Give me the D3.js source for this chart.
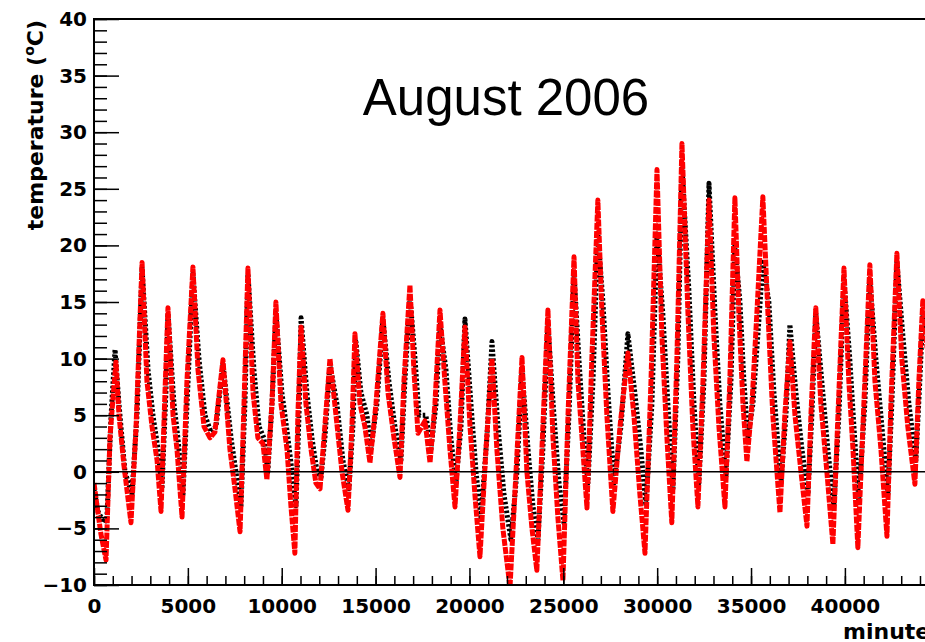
<!DOCTYPE html>
<html lang="en">
<head>
<meta charset="UTF-8">
<title>August 2006</title>
<style>
  body {
    margin: 0;
    background: #ffffff;
  }
  svg text {
    font-family: "DejaVu Sans", sans-serif;
    font-weight: bold;
    fill: #000000;
  }
  text.title {
    font-family: "Liberation Sans", Arial, sans-serif;
    font-weight: normal;
    font-size: 51px;
  }
  .tick text {
    font-size: 20px;
  }
  .tick line {
    stroke: #000000;
    stroke-width: 1.5px;
  }
  .axis-title {
    font-size: 22px;
  }
  path.series {
    fill: none;
    stroke-width: 5px;
    stroke-linejoin: round;
  }
</style>
</head>
<body>
<div id="chart"></div>
<script src="https://d3js.org/d3.v7.min.js"></script>
<script>
// minutes since 1 August 00:00, temperature in degC (turning points)
var redTime = [0, 160, 370, 640, 850, 1010, 1170, 1330, 1600, 1970, 2240, 2560, 2820, 3090, 3360, 3570,
  3780, 3940, 4210, 4420, 4690, 4950, 5270, 5540, 5860, 6180, 6440, 6870, 7240, 7510, 7780, 7990,
  8200, 8470, 8730, 9000, 9210, 9480, 9690, 9960, 10280, 10490, 10700, 10860, 11030, 11290, 11560, 11820,
  12040, 12250, 12570, 12890, 13210, 13530, 13740, 13900, 14170, 14430, 14700, 15020, 15390, 15660, 15980, 16300,
  16510, 16830, 17040, 17260, 17630, 17900, 18160, 18430, 18690, 18960, 19230, 19490, 19760, 20030, 20290, 20560,
  20880, 21200, 21460, 21780, 22160, 22480, 22800, 23060, 23330, 23590, 23860, 24180, 24450, 24710, 24980, 25250,
  25570, 25780, 26040, 26260, 26520, 26840, 27060, 27320, 27640, 28020, 28440, 28760, 29080, 29350, 29670, 29990,
  30250, 30520, 30780, 31050, 31320, 31640, 31900, 32170, 32440, 32760, 33020, 33290, 33610, 33870, 34140, 34350,
  34570, 34780, 35050, 35310, 35630, 35900, 36160, 36540, 36800, 37070, 37340, 37660, 37980, 38190, 38450, 38720,
  39040, 39360, 39630, 39950, 40210, 40430, 40690, 41010, 41330, 41600, 41920, 42240, 42450, 42770, 43030, 43350,
  43730, 43940, 44150, 44370, 44580];
var redTemp = [-1.0, -3.0, -5.5, -7.8, 3.0, 6.5, 9.7, 5.0, 0.5, -4.5, 4.0, 18.5, 8.0, 4.0, 1.0, -3.5,
  7.0, 14.5, 5.0, 2.0, -4.0, 8.0, 18.1, 9.0, 4.0, 3.0, 3.5, 9.9, 2.0, -1.5, -5.3, 6.0,
  18.0, 7.0, 3.0, 2.5, -0.7, 6.0, 15.0, 6.0, 2.0, -3.0, -7.2, 5.0, 12.8, 6.0, 2.0, -1.0,
  -1.5, 3.0, 10.0, 5.0, 0.0, -3.4, 4.0, 12.2, 6.0, 4.0, 0.8, 6.0, 14.0, 7.0, 3.0, -0.5,
  8.0, 16.5, 9.0, 3.4, 4.5, 0.8, 6.0, 14.3, 8.0, 2.0, -3.1, 4.0, 12.8, 4.0, -2.0, -7.5,
  2.0, 10.0, 2.0, -5.0, -10.2, 0.0, 10.1, 0.0, -5.0, -8.7, 2.0, 14.3, 3.0, -4.0, -9.6, 5.0,
  19.0, 8.0, 2.0, -3.2, 10.0, 24.0, 14.0, 5.0, -3.5, 4.0, 10.5, 5.0, -2.0, -7.2, 8.0, 26.7,
  12.0, 3.0, -4.5, 10.0, 29.0, 14.0, 4.0, -3.1, 8.0, 24.0, 12.0, 4.0, -3.1, 8.0, 24.2, 14.0,
  6.0, 0.9, 6.0, 14.0, 24.3, 14.0, 5.0, -3.6, 5.0, 11.5, 5.0, 0.0, -4.8, 5.0, 14.5, 6.0,
  0.0, -6.4, 5.0, 18.0, 8.0, 2.0, -6.7, 6.0, 18.3, 8.0, 2.0, -5.7, 6.0, 19.3, 10.0, 4.0,
  -1.1, 8.0, 15.1, 11.0, 10.0];

var blackTime = [0, 210, 530, 690, 910, 1120, 1330, 1650, 2020, 2290, 2560, 2880, 3140, 3410, 3620, 3830,
  3940, 4260, 4470, 4740, 5010, 5270, 5590, 5910, 6230, 6500, 6870, 7300, 7560, 7830, 8040, 8200,
  8520, 8790, 9050, 9260, 9480, 9690, 10010, 10330, 10550, 10760, 10920, 11030, 11340, 11610, 11880, 12090,
  12300, 12570, 12940, 13260, 13580, 13790, 13950, 14220, 14540, 14750, 15070, 15390, 15710, 16030, 16350, 16560,
  16830, 17100, 17310, 17680, 17950, 18220, 18430, 18750, 19010, 19280, 19550, 19760, 20080, 20350, 20610, 20930,
  21200, 21520, 21840, 22210, 22530, 22800, 23120, 23380, 23650, 23910, 24180, 24500, 24770, 25030, 25300, 25570,
  25830, 26100, 26310, 26580, 26840, 27110, 27380, 27700, 28070, 28440, 28810, 29130, 29400, 29720, 29990, 30300,
  30570, 30840, 31100, 31320, 31690, 31960, 32220, 32490, 32760, 33080, 33340, 33660, 33930, 34140, 34410, 34620,
  34830, 35100, 35360, 35630, 35950, 36220, 36590, 36860, 37070, 37390, 37710, 38030, 38240, 38450, 38770, 39090,
  39410, 39680, 39950, 40260, 40480, 40740, 41060, 41330, 41650, 41970, 42290, 42500, 42770, 43090, 43410, 43780,
  43990, 44150, 44420, 44580];
var blackTemp = [-1.5, -3.5, -4.5, -4.0, 5.0, 10.8, 6.0, 0.0, -2.0, 5.0, 18.0, 9.0, 5.0, 2.0, -1.5, 7.0,
  14.0, 6.0, 3.0, -2.0, 8.0, 17.5, 10.0, 5.0, 3.5, 4.0, 9.5, 3.0, 0.0, -3.0, 6.0, 17.5,
  9.0, 4.0, 3.0, 0.0, 6.0, 14.0, 7.0, 3.0, 0.0, -3.0, 5.0, 13.6, 7.0, 3.0, 0.0, -0.5,
  3.0, 9.5, 6.0, 1.0, -1.5, 4.0, 11.5, 7.0, 5.0, 2.0, 6.0, 13.5, 8.0, 4.0, 1.0, 8.0,
  15.5, 10.0, 5.0, 5.0, 2.0, 6.0, 13.0, 9.0, 3.0, -1.0, 4.0, 13.5, 6.0, 0.0, -4.0, 3.0,
  11.5, 4.0, -2.0, -6.0, 0.0, 9.0, 2.0, -3.0, -6.0, 2.0, 13.0, 5.0, -1.0, -4.5, 5.0, 17.5,
  10.0, 3.0, -1.0, 8.0, 21.0, 15.0, 7.0, -1.0, 4.0, 12.2, 7.0, 2.0, -3.0, 6.0, 21.0, 14.0,
  6.0, -1.5, 10.0, 27.0, 16.0, 6.0, -1.0, 8.0, 25.5, 14.0, 6.0, -0.5, 8.0, 20.0, 15.0, 8.0,
  3.0, 6.0, 12.0, 18.5, 15.0, 7.0, -1.0, 5.0, 13.0, 7.0, 2.0, -2.0, 5.0, 14.0, 8.0, 2.0,
  -3.0, 5.0, 17.0, 10.0, 4.0, -2.5, 6.0, 17.0, 10.0, 4.0, -2.0, 6.0, 18.5, 12.0, 6.0, 1.0,
  8.0, 14.0, 12.0, 10.0];

var xTickValues = [0, 5000, 10000, 15000, 20000, 25000, 30000, 35000, 40000];
var yTickValues = [-10, -5, 0, 5, 10, 15, 20, 25, 30, 35, 40];
var xDomain = [0, 44640];
var yDomain = [-10, 40];

var width = 925;
var height = 642;
var plot = { left: 94, right: 932, top: 19, bottom: 585 };

var x = d3.scaleLinear().domain(xDomain).range([plot.left, plot.right]);
var y = d3.scaleLinear().domain(yDomain).range([plot.bottom, plot.top]);

var svg = d3.select('#chart')
  .append('svg')
  .attr('width', width)
  .attr('height', height);

svg.append('defs').append('clipPath')
  .attr('id', 'plotclip')
  .append('rect')
  .attr('x', plot.left)
  .attr('y', plot.top)
  .attr('width', plot.right - plot.left)
  .attr('height', plot.bottom - plot.top);

function rows(times, temps) {
  return times.map(function(t, i) { return { t: t, v: temps[i] }; });
}

var line = d3.line()
  .x(function(d) { return x(d.t); })
  .y(function(d) { return y(d.v); });

var data = svg.append('g').attr('clip-path', 'url(#plotclip)');

data.append('path')
  .attr('class', 'series')
  .attr('d', line(rows(blackTime, blackTemp)))
  .style('stroke', '#000000')
  .style('stroke-dasharray', '2.5,2');

data.append('path')
  .attr('class', 'series')
  .attr('d', line(rows(redTime, redTemp)))
  .style('stroke', '#ff0000')
  .style('stroke-dasharray', '7,1.2');

// zero line
svg.append('line')
  .attr('x1', x(xDomain[0]))
  .attr('x2', x(xDomain[1]))
  .attr('y1', y(0))
  .attr('y2', y(0))
  .style('stroke', '#000000')
  .style('stroke-width', 1.5);

// axes (ticks pointing into the frame, like ROOT)
svg.append('g')
  .attr('transform', 'translate(0,' + plot.bottom + ')')
  .call(d3.axisBottom(x).tickValues(d3.range(0, 45000, 1000)).tickSize(-9).tickSizeOuter(0).tickFormat(''))
  .select('.domain').remove();

svg.append('g')
  .attr('transform', 'translate(0,' + plot.bottom + ')')
  .call(d3.axisBottom(x).tickValues(xTickValues).tickSize(-17).tickSizeOuter(0).tickPadding(14)
    .tickFormat(d3.format('d')))
  .call(function(g) { g.select('.domain').remove(); });

svg.append('g')
  .attr('transform', 'translate(' + plot.left + ',0)')
  .call(d3.axisLeft(y).tickValues(d3.range(-10, 41, 1)).tickSize(-13).tickSizeOuter(0).tickFormat(''))
  .select('.domain').remove();

svg.append('g')
  .attr('transform', 'translate(' + plot.left + ',0)')
  .call(d3.axisLeft(y).tickValues(yTickValues).tickSize(-25).tickSizeOuter(0).tickPadding(7)
    .tickFormat(d3.format('d')))
  .call(function(g) { g.select('.domain').remove(); });

// frame
svg.append('rect')
  .attr('x', plot.left)
  .attr('y', plot.top)
  .attr('width', plot.right - plot.left)
  .attr('height', plot.bottom - plot.top)
  .style('fill', 'none')
  .style('stroke', '#000000')
  .style('stroke-width', 2);

// titles
svg.append('text')
  .attr('class', 'title')
  .attr('x', 506)
  .attr('y', 115)
  .attr('text-anchor', 'middle')
  .text('August 2006');

// x title is right-aligned on the axis end, which lies past the window edge (as in the original)
svg.append('text')
  .attr('class', 'axis-title')
  .attr('x', 843)
  .attr('y', 639)
  .text('minutes');

var ytitle = svg.append('text')
  .attr('class', 'axis-title')
  .attr('transform', 'translate(43,20) rotate(-90)')
  .attr('text-anchor', 'end');
ytitle.append('tspan').text('temperature (');
ytitle.append('tspan').attr('dy', -9).style('font-size', '14px').text('o');
ytitle.append('tspan').attr('dy', 9).text('C)');
</script>
</body>
</html>
